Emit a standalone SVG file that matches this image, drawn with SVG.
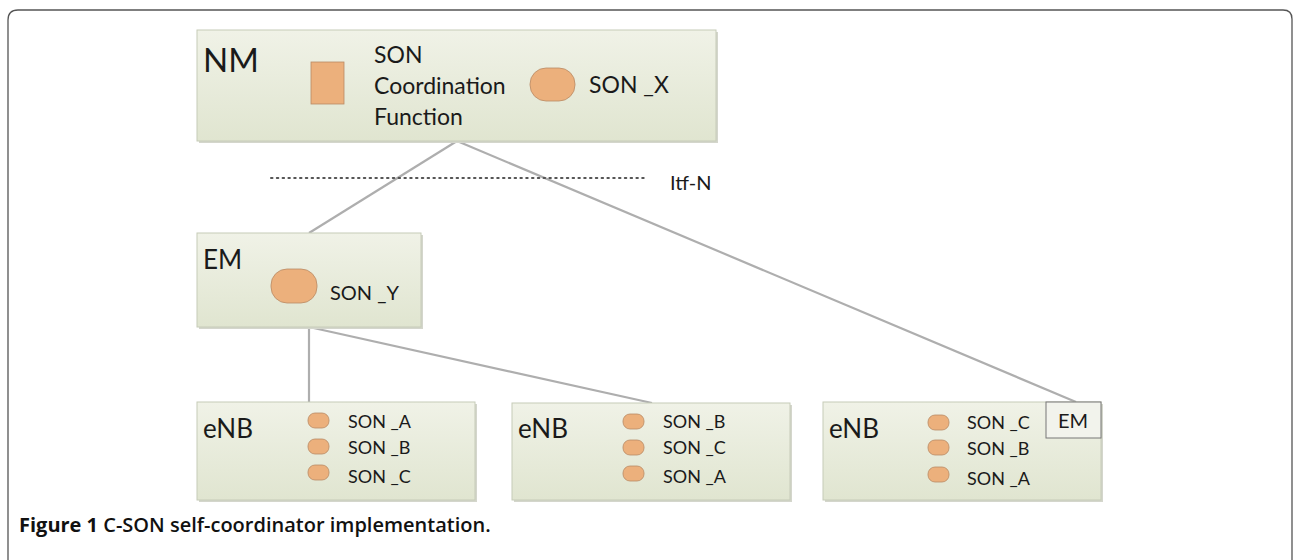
<svg xmlns="http://www.w3.org/2000/svg" width="1294" height="560" viewBox="0 0 1294 560">
<style>
.box{fill:url(#g);stroke:#c6cbb8;stroke-width:1}
.sh{fill:#d4d6cc}
.org{fill:#ecb07c;stroke:#b98a64;stroke-width:0.8}
.t{font-family:Lato,"Liberation Sans",sans-serif;fill:#1a1a1a}
.big{font-size:26px}
.mid{font-size:23px}
.sm{font-size:18px}
.con{stroke:#aeaeae;stroke-width:2.2;fill:none}
.cap{font-family:"Open Sans","Liberation Sans",sans-serif;font-size:20px;font-weight:bold;fill:#111}
</style>
<defs>
<linearGradient id="g" x1="0" y1="0" x2="0" y2="1">
<stop offset="0" stop-color="#f0f2e7"/>
<stop offset="1" stop-color="#e0e5d0"/>
</linearGradient>
</defs>
<rect width="1294" height="560" fill="#fff"/>
<path d="M8 560 V20 Q8 10 18 10 H1283 Q1292 10 1292 19 V560" fill="none" stroke="#555" stroke-width="1.3"/>
<g id="connectors">
<line class="con" x1="457" y1="141" x2="309" y2="233"/>
<line class="con" x1="457" y1="141" x2="1076" y2="402"/>
<line class="con" x1="309" y1="327" x2="309" y2="402"/>
<line class="con" x1="309" y1="327" x2="652" y2="403"/>
<line x1="271" y1="178" x2="648" y2="178" stroke="#555" stroke-width="2" stroke-dasharray="1.5 4.3" stroke-linecap="round"/>
<text class="t" font-size="20" x="670" y="190">Itf-N</text>
</g>
<g id="nm">
<rect class="sh" x="199" y="32" width="519" height="111"/>
<rect class="box" x="197" y="30" width="519" height="111"/>
<text class="t" x="203" y="72" font-size="33">NM</text>
<rect class="org" x="311" y="62" width="33" height="42"/>
<text class="t mid" x="374" y="63">SON</text>
<text class="t mid" x="374" y="94">Coordination</text>
<text class="t mid" x="374" y="125">Function</text>
<rect class="org" x="530" y="68" width="45" height="33" rx="16" ry="16"/>
<text class="t mid" x="589" y="93">SON _X</text>
</g>
<g id="em">
<rect class="sh" x="199" y="235" width="224" height="94"/>
<rect class="box" x="197" y="233" width="224" height="94"/>
<text class="t big" x="203" y="269">EM</text>
<rect class="org" x="271" y="269" width="46" height="34" rx="16" ry="16"/>
<text class="t" font-size="20" x="330" y="300">SON _Y</text>
</g>
<g id="enb1">
<rect class="sh" x="199" y="404" width="278" height="98"/>
<rect class="box" x="197" y="402" width="278" height="98"/>
<text class="t big" x="203" y="438">eNB</text>
<rect class="org" x="308" y="413" width="21" height="15" rx="7" ry="7"/>
<rect class="org" x="308" y="439" width="21" height="15" rx="7" ry="7"/>
<rect class="org" x="308" y="465" width="21" height="15" rx="7" ry="7"/>
<text class="t sm" x="348" y="428">SON _A</text>
<text class="t sm" x="348" y="454">SON _B</text>
<text class="t sm" x="348" y="483">SON _C</text>
</g>
<g id="enb2">
<rect class="sh" x="514" y="405" width="278" height="97"/>
<rect class="box" x="512" y="403" width="278" height="97"/>
<text class="t big" x="518" y="438">eNB</text>
<rect class="org" x="623" y="414" width="21" height="15" rx="7" ry="7"/>
<rect class="org" x="623" y="440" width="21" height="15" rx="7" ry="7"/>
<rect class="org" x="623" y="466" width="21" height="15" rx="7" ry="7"/>
<text class="t sm" x="663" y="428">SON _B</text>
<text class="t sm" x="663" y="454">SON _C</text>
<text class="t sm" x="663" y="483">SON _A</text>
</g>
<g id="enb3">
<rect class="sh" x="825" y="404" width="278" height="98"/>
<rect class="box" x="823" y="402" width="278" height="98"/>
<text class="t big" x="829" y="438">eNB</text>
<rect class="org" x="928" y="415" width="21" height="15" rx="7" ry="7"/>
<rect class="org" x="928" y="440" width="21" height="15" rx="7" ry="7"/>
<rect class="org" x="928" y="467" width="21" height="15" rx="7" ry="7"/>
<text class="t sm" x="967" y="429">SON _C</text>
<text class="t sm" x="967" y="455">SON _B</text>
<text class="t sm" x="967" y="485">SON _A</text>
<rect x="1046" y="402" width="55" height="36" fill="#f2f3ec" stroke="#777" stroke-width="1"/>
<text class="t" font-size="20" x="1058" y="428">EM</text>
</g>
<text class="cap" x="19" y="532">Figure 1 <tspan font-weight="600">C-SON self-coordinator implementation.</tspan></text>
</svg>
